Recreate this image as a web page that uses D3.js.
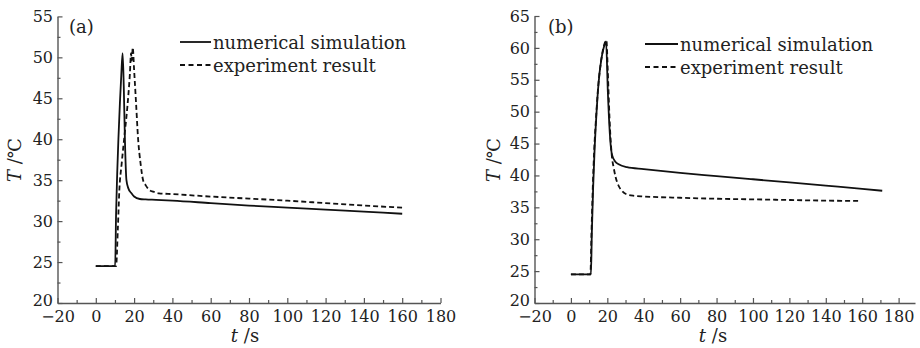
<!DOCTYPE html>
<html>
<head>
<meta charset="utf-8">
<script src="https://cdn.jsdelivr.net/npm/d3@7"></script>
<style>
	body { margin: 0; background: #fff; }
	svg { display: block; }
</style>
</head>
<body>
<svg class="temp-chart" width="920" height="348"></svg>
<script>
// ---- data ----
// (a) numerical simulation
let simA_t = [0, 10.1, 10.6, 11.2, 11.8, 12.6, 13.3, 14.0, 14.6, 15.2, 16.0, 17.0, 18.6, 20.0, 23.0, 26.0, 31.5, 40, 60, 80, 100, 120, 140, 160];
let simA_T = [24.5, 24.5, 31.0, 36.0, 40.0, 44.5, 47.8, 50.5, 46.5, 40.0, 35.0, 34.0, 33.4, 33.0, 32.7, 32.65, 32.6, 32.5, 32.2, 31.9, 31.65, 31.4, 31.15, 30.9];
// (a) experiment result
let expA_t = [0, 10.6, 11.5, 12.3, 13.5, 15.0, 16.5, 17.8, 18.4, 18.8, 19.3, 20.0, 21.0, 22.1, 23.4, 24.7, 26.0, 28.0, 30.0, 33.0, 40, 60, 80, 100, 120, 140, 160];
let expA_T = [24.5, 24.5, 29.0, 33.8, 37.0, 40.5, 44.0, 48.0, 50.5, 49.6, 51.2, 48.5, 44.5, 40.0, 37.0, 35.0, 34.4, 33.8, 33.6, 33.4, 33.3, 33.0, 32.75, 32.5, 32.2, 31.9, 31.65];
// (b) numerical simulation
let simB_t = [0, 11.0, 11.5, 12.2, 13.0, 14.0, 15.2, 16.6, 18.0, 19.3, 20.3, 21.6, 22.6, 24.3, 26.5, 30.8, 40, 60, 80, 100, 120, 140, 160, 171];
let simB_T = [24.5, 24.5, 31.0, 38.0, 44.0, 49.5, 54.5, 58.0, 60.0, 61.0, 53.0, 45.6, 43.2, 42.2, 41.7, 41.3, 41.0, 40.4, 39.9, 39.4, 38.9, 38.4, 37.9, 37.6];
// (b) experiment result
let expB_t = [0, 10.7, 11.3, 12.0, 12.8, 13.8, 15.0, 16.6, 18.3, 19.5, 20.3, 21.2, 22.5, 23.5, 24.5, 26.0, 28.0, 31.0, 35.0, 40, 60, 80, 100, 120, 140, 159];
let expB_T = [24.5, 24.5, 31.0, 38.0, 44.0, 49.0, 54.0, 58.0, 60.5, 61.2, 56.0, 49.0, 43.0, 41.2, 39.8, 38.5, 37.6, 37.0, 36.8, 36.7, 36.5, 36.35, 36.25, 36.15, 36.05, 36.0];

let xTicks = [-20, 0, 20, 40, 60, 80, 100, 120, 140, 160, 180];
let xMinor = [-10, 10, 30, 50, 70, 90, 110, 130, 150, 170];
let yTicksA = [20, 25, 30, 35, 40, 45, 50, 55];
let yTicksB = [20, 25, 30, 35, 40, 45, 50, 55, 60, 65];
let legendLabels = ['numerical simulation', 'experiment result'];
let panelLabels = ['(a)', '(b)'];

let font = 'DejaVu Serif, Liberation Serif, serif';
let axisColor = '#555';
let lineColor = '#111';

let svg = d3.select('.temp-chart');

// layout of each panel (pixels)
let panels = [
	{
		label: panelLabels[0],
		sim: { t: simA_t, T: simA_T },
		exp: { t: expA_t, T: expA_T },
		xDomain: [-20, 180], xRange: [57.5, 440.5],
		yDomain: [20, 55], yRange: [303, 16.4],
		yTicks: yTicksA,
		labelPos: [69, 33],
		legend: { x1: 180, x2: 211, y: 42, dy: 23 },
		yTitle: [14.5, 160],
		xTitle: [245, 342]
	},
	{
		label: panelLabels[1],
		sim: { t: simB_t, T: simB_T },
		exp: { t: expB_t, T: expB_T },
		xDomain: [-20, 189], xRange: [534.5, 915],
		yDomain: [20, 65], yRange: [303, 16],
		yTicks: yTicksB,
		labelPos: [548, 33],
		legend: { x1: 645, x2: 678, y: 44, dy: 23 },
		yTitle: [494, 160],
		xTitle: [713, 342]
	}
];

function styleAxis(sel) {
	sel.attr('font-family', font).attr('font-size', 16);
	sel.selectAll('.domain').attr('stroke', axisColor).attr('stroke-width', 1.4);
	sel.selectAll('.tick line').attr('stroke', axisColor).attr('stroke-width', 1.2);
	sel.selectAll('.tick text').attr('fill', '#222');
}

function drawPanel(p) {
	let x = d3.scaleLinear().domain(p.xDomain).range(p.xRange);
	let y = d3.scaleLinear().domain(p.yDomain).range(p.yRange);
	let g = svg.append('g');
	let y0 = p.yRange[0];
	let x0 = p.xRange[0];

	// minor ticks
	g.append('g')
		.attr('transform', 'translate(0,' + y0 + ')')
		.call(d3.axisBottom(x).tickValues(xMinor).tickSize(-3).tickFormat(''))
		.call(styleAxis)
		.select('.domain').remove();

	let yMinor = p.yTicks.slice(0, -1).map(function(d) { return d + 2.5; });
	g.append('g')
		.attr('transform', 'translate(' + x0 + ',0)')
		.call(d3.axisLeft(y).tickValues(yMinor).tickSize(-3).tickFormat(''))
		.call(styleAxis)
		.select('.domain').remove();

	// main axes, ticks pointing inward
	g.append('g')
		.attr('transform', 'translate(0,' + y0 + ')')
		.call(d3.axisBottom(x).tickValues(xTicks).tickSizeInner(-5).tickSizeOuter(0).tickPadding(7.5))
		.call(styleAxis);

	let yAxis = g.append('g')
		.attr('transform', 'translate(' + x0 + ',0)')
		.call(d3.axisLeft(y).tickValues(p.yTicks).tickSizeInner(-5).tickSizeOuter(0).tickPadding(4.5))
		.call(styleAxis);

	// lowest y label sits a little higher, as in the original
	yAxis.selectAll('.tick text')
		.filter(function(d) { return d === p.yDomain[0]; })
		.attr('y', -3);

	let line = d3.line()
		.x(function(d) { return x(d[0]); })
		.y(function(d) { return y(d[1]); })
		.curve(d3.curveMonotoneX);

	let simPts = p.sim.t.map(function(t, i) { return [t, p.sim.T[i]]; });
	let expPts = p.exp.t.map(function(t, i) { return [t, p.exp.T[i]]; });

	g.append('path')
		.attr('d', line(expPts))
		.attr('fill', 'none')
		.attr('stroke', lineColor)
		.attr('stroke-width', 1.8)
		.attr('stroke-dasharray', '5,3');

	g.append('path')
		.attr('d', line(simPts))
		.attr('fill', 'none')
		.attr('stroke', lineColor)
		.attr('stroke-width', 1.8);

	// legend
	let lg = p.legend;
	legendLabels.forEach(function(txt, i) {
		let ly = lg.y + i * lg.dy;
		g.append('line')
			.attr('x1', lg.x1).attr('x2', lg.x2)
			.attr('y1', ly).attr('y2', ly)
			.attr('stroke', lineColor)
			.attr('stroke-width', 1.8)
			.attr('stroke-dasharray', i === 1 ? '5,3.5' : null);
		g.append('text')
			.attr('x', lg.x2 + 2)
			.attr('y', ly + 6.5)
			.attr('font-family', font)
			.attr('font-size', 18)
			.attr('fill', '#222')
			.text(txt);
	});

	// panel label
	g.append('text')
		.attr('x', p.labelPos[0])
		.attr('y', p.labelPos[1])
		.attr('font-family', font)
		.attr('font-size', 18)
		.attr('fill', '#222')
		.text(p.label);

	// axis titles
	let yt = g.append('text')
		.attr('transform', 'translate(' + p.yTitle[0] + ',' + p.yTitle[1] + ') rotate(-90)')
		.attr('text-anchor', 'middle')
		.attr('dy', '0.35em')
		.attr('font-family', font)
		.attr('font-size', 18)
		.attr('fill', '#222');
	yt.append('tspan').attr('font-style', 'italic').text('T');
	yt.append('tspan').text(' /\u2103');

	let xt = g.append('text')
		.attr('x', p.xTitle[0])
		.attr('y', p.xTitle[1])
		.attr('text-anchor', 'middle')
		.attr('font-family', font)
		.attr('font-size', 18)
		.attr('fill', '#222');
	xt.append('tspan').attr('font-style', 'italic').text('t');
	xt.append('tspan').text(' /s');
}

panels.forEach(drawPanel);
</script>
</body>
</html>
